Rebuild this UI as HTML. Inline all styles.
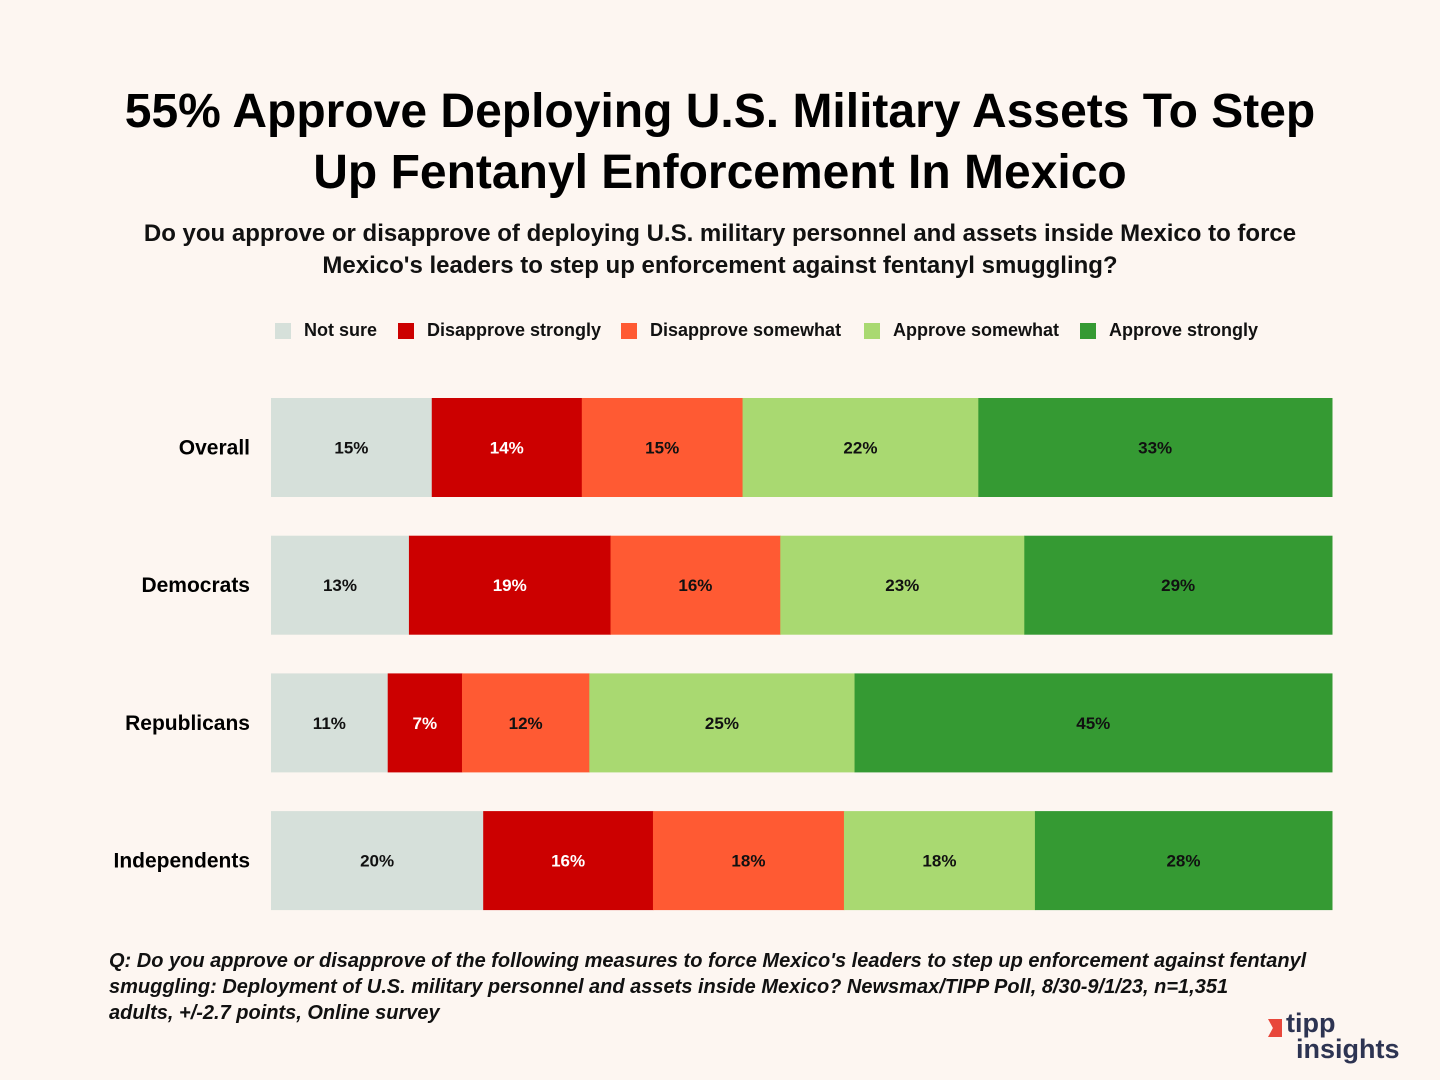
<!DOCTYPE html>
<html><head><meta charset="utf-8"><style>
body{margin:0;background:#fdf6f1;font-family:"Liberation Sans",sans-serif;}
#root{position:relative;width:1440px;height:1080px;overflow:hidden;background:#fdf6f1;}
.title{position:absolute;left:0;width:1440px;text-align:center;font-weight:bold;font-size:48px;line-height:61px;top:81px;color:#000;}
.sub{position:absolute;left:0;width:1440px;text-align:center;font-weight:bold;font-size:24px;line-height:32px;top:218px;color:#111;}
.leg{position:absolute;top:320px;font-size:18px;font-weight:bold;color:#111;display:flex;align-items:center;}
.leg i{display:inline-block;width:16px;height:16px;margin-right:13px;}
.foot{position:absolute;left:109px;top:948px;white-space:nowrap;font-style:italic;font-weight:bold;font-size:20px;line-height:26px;color:#111;}
svg text{font-family:"Liberation Sans",sans-serif;}
</style></head><body>
<div id="root">
<div class="title">55% Approve Deploying U.S. Military Assets To Step<br>Up Fentanyl Enforcement In Mexico</div>
<div class="sub">Do you approve or disapprove of deploying U.S. military personnel and assets inside Mexico to force<br>Mexico's leaders to step up enforcement against fentanyl smuggling?</div>
<div class="leg" style="left:275px"><i style="background:#d6e0da"></i>Not sure</div>
<div class="leg" style="left:398px"><i style="background:#cc0000"></i>Disapprove strongly</div>
<div class="leg" style="left:621px"><i style="background:#ff5a33"></i>Disapprove somewhat</div>
<div class="leg" style="left:864px"><i style="background:#a9d971"></i>Approve somewhat</div>
<div class="leg" style="left:1080px"><i style="background:#359a33"></i>Approve strongly</div>
<svg id="chart" width="1440" height="1080" style="position:absolute;left:0;top:0"></svg>
<div class="foot">Q: Do you approve or disapprove of the following measures to force Mexico's leaders to step up enforcement against fentanyl<br>smuggling: Deployment of U.S. military personnel and assets inside Mexico? Newsmax/TIPP Poll, 8/30-9/1/23, n=1,351<br>adults, +/-2.7 points, Online survey</div>
<div style="position:absolute;left:1258px;top:1014px;width:150px;height:56px;">
<div style="position:absolute;left:10px;top:5px;width:14px;height:18px;background:#e8473b;clip-path:polygon(0 0,100% 0,100% 100%,0 100%,35% 50%)"></div>
<div style="position:absolute;left:28px;top:-6px;font-weight:bold;font-size:27px;color:#2d3452;line-height:30px;">tipp</div>
<div style="position:absolute;left:38px;top:20px;font-weight:bold;font-size:27px;color:#2d3452;line-height:30px;">insights</div>
</div>
</div>
<script>
const categories=["Overall","Democrats","Republicans","Independents"];
const notSure=[15,13,11,20];
const disStrong=[14,19,7,16];
const disSome=[15,16,12,18];
const appSome=[22,23,25,18];
const appStrong=[33,29,45,28];
const series=[notSure,disStrong,disSome,appSome,appStrong];
const colors=["#d6e0da","#cc0000","#ff5a33","#a9d971","#359a33"];
const textColors=["#111","#fff","#111","#111","#111"];
const segNames=["not-sure","disapprove-strongly","disapprove-somewhat","approve-somewhat","approve-strongly"];
const NS="http://www.w3.org/2000/svg";
const svg=document.getElementById('chart');
const x0=271,x1=1332,top0=398,rowStep=137.7,barH=99;
function yPos(i){return top0+i*rowStep;}
categories.forEach((c,i)=>{
  const y=yPos(i);
  let sum=0;series.forEach(s=>sum+=s[i]);
  const lab=document.createElementNS(NS,'text');
  
  
  lab.setAttribute('x',250);lab.setAttribute('y',y+barH/2+7);
  lab.setAttribute('text-anchor','end');lab.setAttribute('font-size','21');lab.setAttribute('font-weight','bold');
  lab.textContent=c;svg.appendChild(lab);
  let acc=0;
  series.forEach((s,k)=>{
    const xa=x0+(x1-x0)*acc/sum, w=(x1-x0)*s[i]/sum;
    acc+=s[i];
    const r=document.createElementNS(NS,'rect');
    
    
    r.setAttribute('x',xa);r.setAttribute('y',y);r.setAttribute('width',w+0.5);r.setAttribute('height',barH);
    r.setAttribute('fill',colors[k]);svg.appendChild(r);
    const t=document.createElementNS(NS,'text');
    
    
    t.setAttribute('x',xa+w/2);t.setAttribute('y',y+barH/2+6);
    t.setAttribute('text-anchor','middle');t.setAttribute('font-size','17');t.setAttribute('font-weight','bold');
    t.setAttribute('fill',textColors[k]);t.textContent=s[i]+'%';svg.appendChild(t);
  });
});
</script>
</body></html>
